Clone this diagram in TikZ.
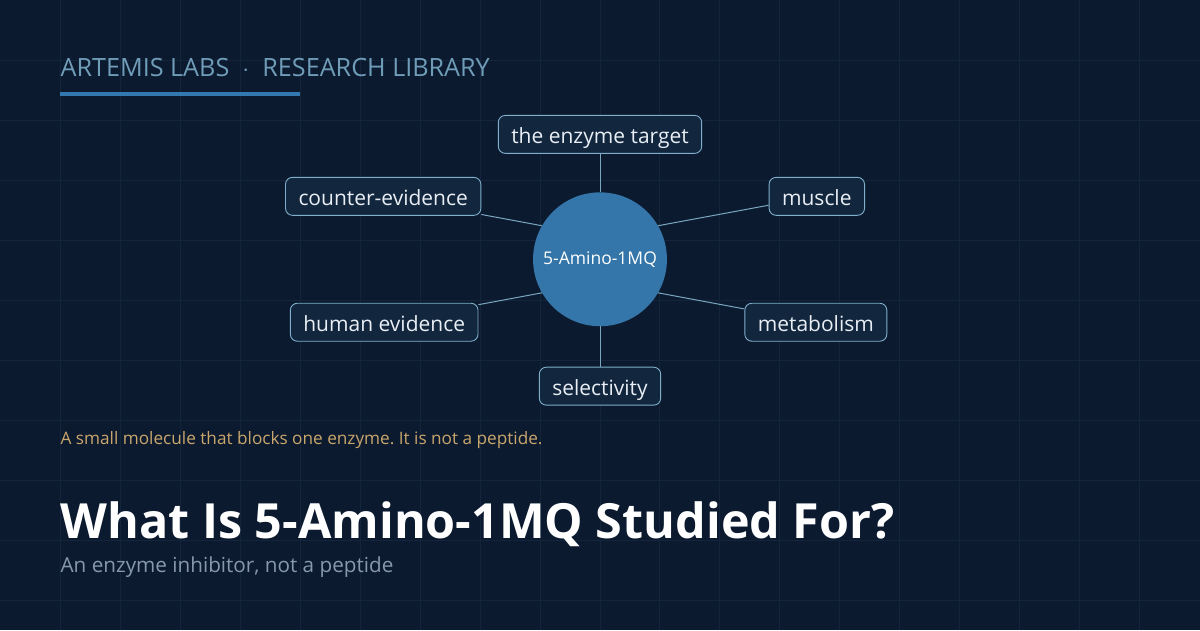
\documentclass[tikz,border=0pt]{standalone}
\usepackage{fontspec}
\setmainfont{Open Sans}
\usepackage{xcolor}
\usetikzlibrary{positioning,calc}
\definecolor{navy}{HTML}{0C1A2F}
\definecolor{gridline}{HTML}{14253B}
\definecolor{steel}{HTML}{6F9DB8}
\definecolor{hubblue}{HTML}{3476A9}
\definecolor{barblue}{HTML}{3478B0}
\definecolor{boxfill}{HTML}{12263E}
\definecolor{boxedge}{HTML}{7FAFCB}
\definecolor{spokecol}{HTML}{7AA6C0}
\definecolor{paper}{HTML}{E8EEF4}
\definecolor{sand}{HTML}{C9A66C}
\definecolor{mist}{HTML}{8797AD}
\frenchspacing
\tikzset{
  topicbox/.style={
    rectangle, rounded corners=7pt, draw=boxedge, fill=boxfill, line width=0.9pt,
    minimum height=38pt, inner xsep=13pt, text=paper,
    text height=18.5pt, text depth=0pt,
    font=\fontsize{21}{25}\selectfont
  },
  hubnode/.style={
    circle, fill=hubblue, minimum size=134pt, inner sep=0pt, text=white,
    font=\fontsize{17.5}{20}\selectfont
  },
  spoke/.style={draw=spokecol, line width=1pt},
  headtext/.style={anchor=base west, inner sep=0pt}
}
\begin{document}
\begin{tikzpicture}[x=1pt,y=-1pt]
  % background and grid
  \fill[navy] (0,0) rectangle (1200,630);
  \foreach \gx in {60,120,...,1140}
    \draw[gridline, line width=1pt] (\gx,0) -- (\gx,630);
  \foreach \gy in {60,120,...,600}
    \draw[gridline, line width=1pt] (0,\gy) -- (1200,\gy);
  \useasboundingbox (0,0) rectangle (1200,630);

  % header
  \node[headtext, text=steel, font=\fontsize{25.2}{29}\selectfont] (brand) at (60,76)
    {ARTEMIS LABS \ $\cdot$\ \ RESEARCH LIBRARY};
  \fill[barblue] (60,92) rectangle (300,95.5);

  % hub and topics
  \node[hubnode] (hub) at (600,259) {5-Amino-1MQ};
  \node[topicbox] (target) at (600,134) {the enzyme target};
  \node[topicbox] (counter) at (383,196) {counter-evidence};
  \node[topicbox] (muscle) at (817,196) {muscle};
  \node[topicbox] (human) at (384,322) {human evidence};
  \node[topicbox] (metab) at (816,322) {metabolism};
  \node[topicbox] (select) at (600,386) {selectivity};

  \draw[spoke] (hub.90) -- (target);
  \draw[spoke] (hub.150) -- (counter);
  \draw[spoke] (hub.30) -- (muscle);
  \draw[spoke] (hub.210) -- (human);
  \draw[spoke] (hub.330) -- (metab);
  \draw[spoke] (hub.270) -- (select);

  % captions
  \node[headtext, text=sand, font=\fontsize{17.2}{20}\selectfont] (note) at (60,444)
    {A small molecule that blocks one enzyme. It is not a peptide.};
  \node[headtext, text=white, font=\fontsize{48.5}{56}\selectfont\bfseries] (title) at (60,538)
    {What Is 5-Amino-1MQ Studied For?};
  \node[headtext, text=mist, font=\fontsize{20.7}{24}\selectfont] (subtitle) at (60,572)
    {An enzyme inhibitor, not a peptide};
\end{tikzpicture}
\end{document}
